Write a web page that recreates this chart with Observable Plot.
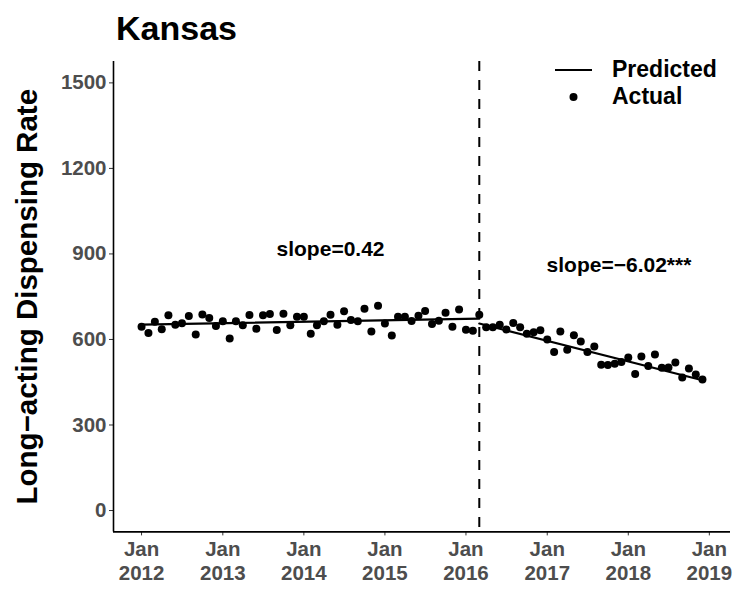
<!DOCTYPE html>
<html><head><meta charset="utf-8">
<script src="https://cdn.jsdelivr.net/npm/d3@7"></script>
<script src="https://cdn.jsdelivr.net/npm/@observablehq/plot@0.6"></script>
<style>
body{margin:0;background:#fff;font-family:"Liberation Sans",Arial,sans-serif;}
#wrap{position:relative;width:735px;height:589px;overflow:hidden;}
#title{height:48px;box-sizing:border-box;padding-left:116px;padding-top:10px;font-size:34px;font-weight:bold;line-height:36px;color:#000;}
#legend{position:absolute;left:550px;top:56px;font-size:23px;font-weight:bold;color:#000;}
#legend .row{display:flex;align-items:center;height:27px;}
#legend svg{width:60px;height:20px;margin-right:2px;}
</style></head><body>
<div id="wrap">
<div id="title">Kansas</div>
<div id="chart"></div>
<div id="legend"></div>
</div>
<script>
// Monthly observations, Jan 2012 .. Dec 2018
const startMonth = "2012-01-01";
const endMonth = "2018-12-01";
const actual = [
  645, 623, 662, 636, 685, 652, 657, 682, 617, 688, 675, 647,
  664, 603, 664, 650, 686, 638, 685, 689, 633, 690, 650, 680,
  680, 620, 650, 664, 687, 652, 699, 668, 664, 708, 628, 718,
  656, 614, 680, 680, 665, 683, 700, 654, 666, 694, 645, 705,
  634, 631, 687, 643, 643, 652, 635, 658, 643, 620, 625, 632,
  600, 556, 628, 564, 615, 593, 556, 575, 511, 510, 515, 521,
  537, 479, 540, 507, 547, 501, 502, 519, 467, 498, 477, 460
];
// Predicted segmented trend (endpoints of each segment)
const predSegment = ["pre", "pre", "post", "post"];
const predDates = ["2012-01-01", "2016-03-01", "2016-03-01", "2018-12-01"];
const predValues = [652, 673, 656, 457];
const interruption = "2016-03-01";
const yTicks = [0, 300, 600, 900, 1200, 1500];
const xTickYears = [2012, 2013, 2014, 2015, 2016, 2017, 2018, 2019];
const xTickMonth = "Jan";
const annLabels = ["slope=0.42", "slope=\u22126.02***"];
const annDates = ["2014-05-01", "2017-11-20"];
const annValues = [918, 859];
const yTitle = "Long\u2212acting Dispensing Rate";
const legendLabels = ["Predicted", "Actual"];

const months = d3.utcMonth.range(new Date(startMonth), d3.utcMonth.offset(new Date(endMonth), 1));
const obs = months.map((d, i) => ({date: d, value: actual[i]}));
const pred = predDates.map((d, i) => ({date: new Date(d), value: predValues[i], seg: predSegment[i]}));
const ann = annLabels.map((t, i) => ({label: t, date: new Date(annDates[i]), value: annValues[i]}));
const xTicks = xTickYears.map(y => new Date(Date.UTC(y, 0, 1)));

// ggplot-like 5% expansion
const t0 = months[0], t1 = months[months.length - 1];
const span = t1 - t0;
const xDomain = [new Date(+t0 - span * 0.05), new Date(+t1 + span * 0.05)];
const yDomain = [-75, 1575];

const chart = Plot.plot({
  width: 735,
  height: 541,
  marginLeft: 113,
  marginRight: 5,
  marginTop: 13,
  marginBottom: 57.6,
  style: {fontFamily: "Liberation Sans, Arial, sans-serif", background: "#fff"},
  x: {type: "utc", domain: xDomain},
  y: {domain: yDomain},
  marks: [
    Plot.ruleX([interruption], {x: d => new Date(d), stroke: "#000", strokeWidth: 2, strokeDasharray: "10,9"}),
    Plot.line(pred, {x: "date", y: "value", z: "seg", stroke: "#000", strokeWidth: 2.2}),
    Plot.dot(obs, {x: "date", y: "value", r: 4, fill: "#000", stroke: null}),
    Plot.text(ann, {x: "date", y: "value", text: "label", fontSize: 21, fontWeight: "bold", fill: "#000"}),
    Plot.axisY(yTicks, {tickSize: 4, tickPadding: 3, fontSize: 20.5, fontWeight: "bold", fill: "#4d4d4d", stroke: "#333", label: null,
      tickFormat: d => String(d)}),
    Plot.axisX(xTicks, {tickSize: 4, tickPadding: 3.5, fontSize: 20.5, fontWeight: "bold", fill: "#4d4d4d", stroke: "#333", lineHeight: 1.15,
      tickFormat: d => `${xTickMonth}\n${d.getUTCFullYear()}`, label: null}),
    Plot.ruleX([xDomain[0]], {stroke: "#000", strokeWidth: 1.6}),
    Plot.ruleY([yDomain[0]], {stroke: "#000", strokeWidth: 1.6}),
    Plot.text([yTitle], {frameAnchor: "left", textAnchor: "middle", rotate: -90, dx: -86, fontSize: 29.5, fontWeight: "bold", fill: "#000"})
  ]
});
document.getElementById("chart").appendChild(chart);

// Legend
const lg = document.getElementById("legend");
lg.innerHTML = `
<div class="row"><svg viewBox="0 0 60 20"><line x1="5" y1="10" x2="42" y2="10" stroke="#000" stroke-width="2.2"/></svg><span>${legendLabels[0]}</span></div>
<div class="row"><svg viewBox="0 0 60 20"><circle cx="23.5" cy="10" r="4" fill="#000"/></svg><span>${legendLabels[1]}</span></div>`;
</script>
</body></html>
